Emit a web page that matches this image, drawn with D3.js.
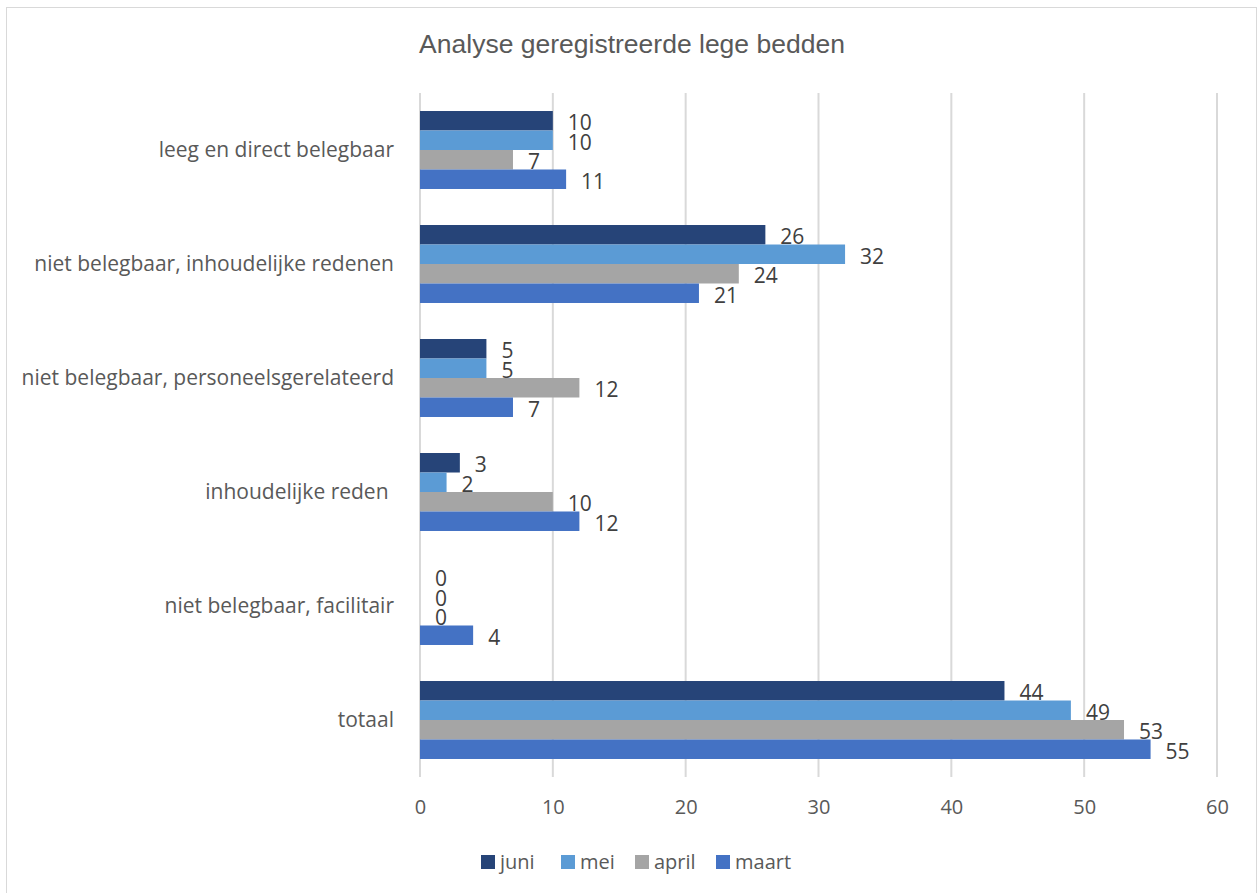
<!DOCTYPE html>
<html>
<head>
<meta charset="utf-8">
<script src="https://cdn.jsdelivr.net/npm/d3@7"></script>
<style>
  body { margin: 0; background: #fff; }
  text { font-family: "Open Sans", "Noto Sans", sans-serif; fill: #595959; }
</style>
</head>
<body>
<div id="chart"></div>
<script>
// categories top to bottom
var categories = [
  "leeg en direct belegbaar",
  "niet belegbaar, inhoudelijke redenen",
  "niet belegbaar, personeelsgerelateerd",
  "inhoudelijke reden ",
  "niet belegbaar, facilitair",
  "totaal"
];
var seriesNames = ["juni", "mei", "april", "maart"];
var juni  = [10, 26, 5, 3, 0, 44];
var mei   = [10, 32, 5, 2, 0, 49];
var april = [7, 24, 12, 10, 0, 53];
var maart = [11, 21, 7, 12, 4, 55];
var xTicks = [0, 10, 20, 30, 40, 50, 60];
var colours = ["#264478", "#5B9BD5", "#A5A5A5", "#4472C4"];

var seriesValues = [juni, mei, april, maart];

var width = 1258, height = 893;
var margin = { left: 420, right: 41, top: 93, bottom: 116 };

var svg = d3.select("#chart")
  .append("svg")
    .attr("width", width)
    .attr("height", height);

// chart border
svg.append("rect")
  .attr("x", 6.5).attr("y", 7.5)
  .attr("width", 1250).attr("height", 890)
  .attr("fill", "none")
  .attr("stroke", "#d9d9d9")
  .attr("stroke-width", 1);

// title
svg.append("text")
  .attr("x", 632).attr("y", 53)
  .attr("text-anchor", "middle")
  .style("font-family", "'Liberation Sans', Arial, sans-serif")
  .style("font-size", "26.5px")
  .text("Analyse geregistreerde lege bedden");

var x = d3.scaleLinear()
  .domain([0, 60])
  .range([margin.left, width - margin.right]);

var y = d3.scaleBand()
  .domain(categories)
  .range([margin.top, height - margin.bottom])
  .paddingInner(0.316)
  .paddingOuter(0.158);

var y1 = d3.scaleBand()
  .domain(seriesNames)
  .range([0, y.bandwidth()]);

// gridlines
svg.append("g")
  .selectAll("line")
  .data(xTicks)
  .enter().append("line")
    .attr("x1", function(d) { return x(d); })
    .attr("x2", function(d) { return x(d); })
    .attr("y1", margin.top)
    .attr("y2", height - margin.bottom)
    .attr("stroke", "#d9d9d9")
    .attr("stroke-width", 2);

// x axis labels
var xAxis = d3.axisBottom(x).tickValues(xTicks).tickSize(0).tickPadding(0);
var gx = svg.append("g")
  .attr("transform", "translate(0,807)")
  .call(xAxis);
gx.select(".domain").remove();
gx.selectAll("text")
  .attr("dy", "0.35em")
  .style("font-size", "20px")
  .style("fill", "#595959");

// category labels
svg.append("g")
  .selectAll("text")
  .data(categories)
  .enter().append("text")
    .attr("x", margin.left - 26)
    .attr("y", function(d) { return y(d) + y.bandwidth() / 2; })
    .attr("dy", "0.35em")
    .attr("text-anchor", "end")
    .style("font-size", "21px")
    .style("white-space", "pre")
    .text(function(d) { return d; });

// bars
var groups = svg.append("g")
  .selectAll("g")
  .data(categories)
  .enter().append("g")
    .attr("transform", function(d) { return "translate(0," + y(d) + ")"; });

groups.selectAll("rect")
  .data(function(d, i) {
    return seriesNames.map(function(s, j) { return { s: s, v: seriesValues[j][i], c: colours[j] }; });
  })
  .enter().append("rect")
    .attr("x", x(0))
    .attr("y", function(d) { return y1(d.s); })
    .attr("width", function(d) { return x(d.v) - x(0); })
    .attr("height", y1.bandwidth())
    .attr("fill", function(d) { return d.c; });

// value labels
groups.selectAll("text")
  .data(function(d, i) {
    return seriesNames.map(function(s, j) { return { s: s, v: seriesValues[j][i] }; });
  })
  .enter().append("text")
    .attr("x", function(d) { return x(d.v) + 15; })
    .attr("y", function(d) { return y1(d.s) + y1.bandwidth() / 2 + 2; })
    .attr("dy", "0.35em")
    .style("font-size", "21px")
    .style("fill", "#404040")
    .text(function(d) { return d.v; });

// legend
var legendX = [481, 561, 635, 716];
var legend = svg.append("g")
  .selectAll("g")
  .data(seriesNames)
  .enter().append("g")
    .attr("transform", function(d, i) { return "translate(" + legendX[i] + ",855)"; });
legend.append("rect")
  .attr("width", 14).attr("height", 14)
  .attr("fill", function(d, i) { return colours[i]; });
legend.append("text")
  .attr("x", 19).attr("y", 7)
  .attr("dy", "0.35em")
  .style("font-size", "20px")
  .text(function(d) { return d; });
</script>
</body>
</html>
